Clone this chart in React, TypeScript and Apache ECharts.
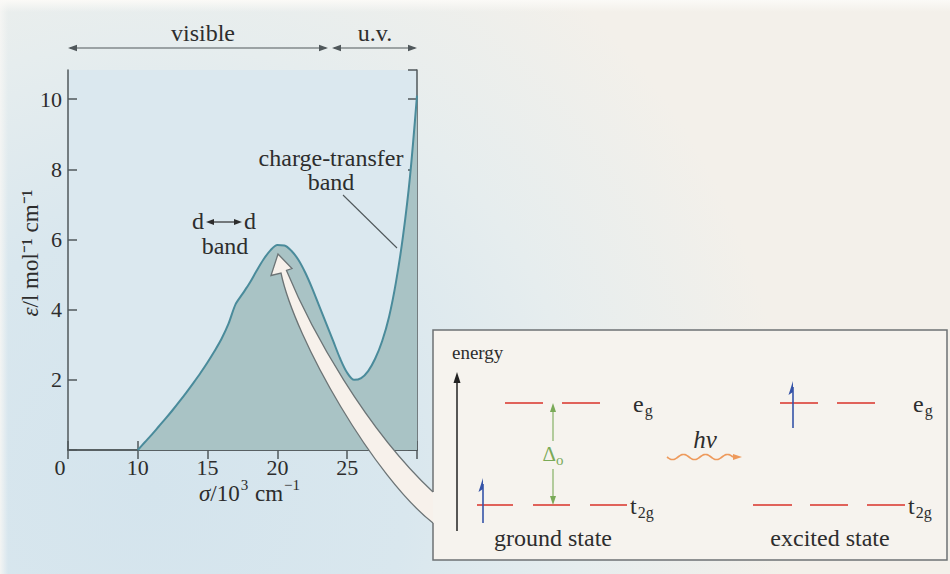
import React, { useEffect, useRef } from "react";
import * as echarts from "echarts";

// wavenumber sigma / 10^3 cm^-1
const sigma = [10, 10.5, 11, 11.5, 12, 12.5, 13, 13.5, 14, 14.5, 15, 15.5, 16, 16.5, 17, 17.5, 18, 18.5, 19, 19.5, 20, 20.5, 21, 21.5, 22, 22.5, 23, 23.5, 24, 24.5, 25, 25.5, 26, 26.5, 27, 27.5, 28, 28.5, 29, 29.5, 30];
// molar absorption coefficient epsilon / l mol^-1 cm^-1
const epsilon = [0, 0.22, 0.44, 0.67, 0.9, 1.14, 1.39, 1.65, 1.92, 2.2, 2.5, 2.82, 3.17, 3.6, 4.15, 4.45, 4.75, 5.1, 5.43, 5.69, 5.84, 5.83, 5.68, 5.42, 5.05, 4.6, 4.1, 3.6, 3.1, 2.6, 2.2, 2.0, 2.05, 2.25, 2.6, 3.1, 3.8, 4.8, 6.1, 7.8, 10.1];
const xTickLabels = ["10", "15", "20", "25"];
const yTickLabels = ["2", "4", "6", "8", "10"];

const SERIF = "'Liberation Serif', 'Times New Roman', serif";
const INK = "#2d2d2d";
const AX = "#50585b";
const RED = "#e0625a";
const BLUE = "#3553a8";
const GREEN = "#7aaa58";
const ORANGE = "#ee9a5c";
const FS = 24;

const dFill =
  "M278 254 L292 268.5 L286.5 270.5 C311 330 365 428 433 492 L433 523 C375 478 295 340 281 273 L271 275.5 Z";
const dStroke =
  "M433 492 C365 428 311 330 286.5 270.5 L292 268.5 L278 254 L271 275.5 L281 273 C295 340 375 478 433 523";

let registered = false;
function registerShapes() {
  if (registered) return;
  registered = true;
  echarts.graphic.registerShape("bigArrowFill", echarts.graphic.extendPath(dFill, {}));
  echarts.graphic.registerShape("bigArrowStroke", echarts.graphic.extendPath(dStroke, {}));
}

const txt = (text: string, x: number, y: number, size = FS, align = "center", extra: any = {}) => ({
  type: "text",
  x,
  y,
  z: 30,
  style: { text, fontFamily: SERIF, fontSize: size, fill: INK, align, verticalAlign: "middle", ...extra },
});

const seg = (x1: number, y1: number, x2: number, y2: number, stroke: string, w = 1.5) => ({
  type: "line",
  z: 30,
  shape: { x1, y1, x2, y2 },
  style: { stroke, lineWidth: w },
});

const poly = (points: number[][], fill: string) => ({
  type: "polygon",
  z: 30,
  shape: { points },
  style: { fill, stroke: "none" },
});

const hHead = (tipX: number, y: number, dir: number, color: string, len = 9, half = 3.2) =>
  poly([[tipX, y], [tipX - dir * len, y - half], [tipX - dir * len, y + half]], color);
const vHead = (x: number, tipY: number, dir: number, color: string, len = 9, half = 3.2) =>
  poly([[x, tipY], [x - half, tipY - dir * len], [x + half, tipY - dir * len]], color);

const richSub = {
  b: { fontFamily: SERIF, fontSize: 24, fill: INK, color: INK, verticalAlign: "top", padding: [0, 0, 0, 0] },
  s: { fontFamily: SERIF, fontSize: 16, fill: INK, color: INK, verticalAlign: "top", padding: [11, 0, 0, 1] },
};
const richSup = {
  n: { fontFamily: SERIF, fontSize: 23, fill: INK, color: INK, verticalAlign: "top", padding: [4, 0, 0, 0] },
  i: { fontFamily: SERIF, fontSize: 23, fontStyle: "italic", fill: INK, color: INK, verticalAlign: "top", padding: [4, 0, 0, 0] },
  p: { fontFamily: SERIF, fontSize: 15, fill: INK, color: INK, verticalAlign: "top", padding: [0, 1, 0, 1] },
};

const spin = (x: number, bottom: number, top: number) => [
  seg(x, bottom, x, top + 6, BLUE, 1.6),
  poly([[x, top], [x - 4.5, top + 14], [x, top + 11]], BLUE),
];

const wave = () => {
  const pts: number[][] = [];
  for (let x = 667; x <= 733; x += 1) {
    pts.push([x, 457 + 2.6 * Math.sin(((x - 667) / 66) * 3 * 2 * Math.PI)]);
  }
  return {
    type: "polyline",
    z: 30,
    shape: { points: pts },
    style: { stroke: ORANGE, lineWidth: 1.6, fill: "none" },
  };
};

function buildGraphic() {
  const els: any[] = [];
  // top spectral region arrows
  els.push(seg(70, 48, 326, 48, AX, 1.2), hHead(68, 48, -1, AX), hHead(328, 48, 1, AX));
  els.push(seg(334, 48, 415, 48, AX, 1.2), hHead(332, 48, -1, AX), hHead(417, 48, 1, AX));
  els.push(txt("visible", 203, 33), txt("u.v.", 375, 33));
  // origin label
  els.push(txt("0", 60, 467, 22));
  // axis names
  els.push({
    type: "text",
    x: 250,
    y: 491,
    z: 30,
    style: { text: "{i|σ}{n|/10}{p|3}{n| cm}{p|−1}", rich: richSup, align: "center", verticalAlign: "middle" },
  });
  els.push({
    type: "text",
    x: 30,
    y: 253,
    z: 30,
    rotation: Math.PI / 2,
    style: {
      text: "{i|ε}{n|/l mol⁻¹ cm⁻¹}",
      rich: {
        i: { fontFamily: SERIF, fontSize: 23, fontStyle: "italic", fill: INK, color: INK },
        n: { fontFamily: SERIF, fontSize: 23, fill: INK, color: INK },
      },
      align: "center",
      verticalAlign: "middle",
    },
  });
  // charge-transfer band label
  els.push(txt("charge-transfer", 331, 158), txt("band", 331, 182));
  els.push(seg(343, 195, 397, 248, AX, 1.1));
  // d <-> d band label
  els.push(txt("d", 198, 221), txt("d", 250, 221));
  els.push(seg(212, 222, 236, 222, INK, 1.2), hHead(206, 222, -1, INK, 8, 3), hHead(242, 222, 1, INK, 8, 3));
  els.push(txt("band", 225, 246));
  // energy diagram box
  els.push({ type: "rect", z: 15, shape: { x: 433, y: 330, width: 514, height: 230 }, style: { fill: "#f6f3ee", stroke: "none" } });
  // big curved arrow
  els.push({ type: "bigArrowFill", x: 0, y: 0, scaleX: 1, scaleY: 1, z: 20, style: { fill: "#f7f1eb", stroke: "none" } });
  els.push({ type: "bigArrowStroke", x: 0, y: 0, scaleX: 1, scaleY: 1, z: 21, style: { fill: "none", stroke: "#6c7476", lineWidth: 1.3 } });
  els.push({
    type: "polyline",
    z: 21,
    shape: { points: [[433, 492], [433, 330], [947, 330], [947, 560], [433, 560], [433, 523]] },
    style: { stroke: "#6d7274", lineWidth: 1.5, fill: "none" },
  });
  // energy axis
  els.push(txt("energy", 452, 352, 19, "left"));
  els.push(seg(457, 531, 457, 380, "#222", 1.5), vHead(457, 372, -1, "#222", 11, 3.5));
  // orbital levels
  const lv = (ranges: number[][], y: number) => ranges.forEach((r) => els.push(seg(r[0], y, r[1], y, RED, 1.8)));
  lv([[505, 543], [562, 600]], 403);
  lv([[477, 513], [533, 570], [590, 627]], 505);
  lv([[780, 818], [837, 875]], 403);
  lv([[753, 792], [810, 848], [867, 905]], 505);
  const orb = (t: string, x: number, y: number) => ({
    type: "text",
    x,
    y,
    z: 30,
    style: { text: t, rich: richSub, align: "left", verticalAlign: "middle" },
  });
  els.push(orb("{b|e}{s|g}", 633, 405), orb("{b|t}{s|2g}", 630, 507));
  els.push(orb("{b|e}{s|g}", 913, 405), orb("{b|t}{s|2g}", 908, 507));
  // electrons
  els.push(...spin(483, 523, 478), ...spin(793, 428, 381));
  // Delta_o arrow
  els.push(seg(553, 410, 553, 441, GREEN, 1.1), seg(553, 469, 553, 497, GREEN, 1.1));
  els.push(vHead(553, 403, -1, GREEN, 9, 3), vHead(553, 505, 1, GREEN, 9, 3));
  els.push({
    type: "text",
    x: 553,
    y: 455,
    z: 30,
    style: {
      text: "{d|Δ}{o|o}",
      rich: {
        d: { fontFamily: SERIF, fontSize: 21, fill: GREEN, color: GREEN, verticalAlign: "top" },
        o: { fontFamily: SERIF, fontSize: 15, fill: GREEN, color: GREEN, verticalAlign: "top", padding: [9, 0, 0, 0] },
      },
      align: "center",
      verticalAlign: "middle",
    },
  });
  // photon
  els.push(txt("hν", 705, 439, 25, "center", { fontStyle: "italic" }));
  els.push(wave(), hHead(742, 457, 1, ORANGE, 9, 3));
  // state labels
  els.push(txt("ground state", 553, 538), txt("excited state", 830, 538));
  return els;
}

export default function App() {
  const ref = useRef<HTMLDivElement>(null);
  useEffect(() => {
    if (!ref.current) return;
    registerShapes();
    const chart = echarts.init(ref.current, undefined, { renderer: "svg" });
    const axisCommon = {
      axisLine: { show: true, lineStyle: { color: AX, width: 1.5 } },
      axisTick: { show: true, inside: true, length: 9, lineStyle: { color: AX, width: 1.5 } },
      splitLine: { show: false },
    };
    chart.setOption({
      animation: false,
      backgroundColor: "transparent",
      grid: { left: 68, right: 533, top: 70, bottom: 124, show: true, backgroundColor: "#dbe8ef", borderWidth: 0 },
      xAxis: [
        {
          type: "value",
          position: "bottom",
          min: 5,
          max: 30,
          interval: 5,
          ...axisCommon,
          axisLabel: {
            margin: 6,
            fontFamily: SERIF,
            fontSize: 22,
            color: INK,
            formatter: (v: number) => (xTickLabels.includes(String(v)) ? String(v) : ""),
          },
        },
        { type: "value", position: "top", min: 5, max: 30, interval: 5, ...axisCommon, axisLabel: { show: false } },
      ],
      yAxis: [
        {
          type: "value",
          position: "left",
          min: 0,
          max: 10.83,
          interval: 2,
          ...axisCommon,
          axisLabel: {
            margin: 6,
            fontFamily: SERIF,
            fontSize: 22,
            color: INK,
            showMaxLabel: false,
            formatter: (v: number) => (yTickLabels.includes(String(v)) ? String(v) : ""),
          },
        },
        { type: "value", position: "right", min: 0, max: 10.83, interval: 2, ...axisCommon, axisLabel: { show: false } },
      ],
      series: [
        {
          type: "line",
          data: sigma.map((s, i) => [s, epsilon[i]]),
          smooth: 0.3,
          showSymbol: false,
          symbol: "none",
          lineStyle: { color: "#4a8b9b", width: 2 },
          areaStyle: { color: "#a9c3c5", opacity: 1 },
          z: 2,
        },
      ],
      graphic: { elements: buildGraphic() },
    });
    return () => chart.dispose();
  }, []);
  return (
    <div
      style={{
        position: "absolute",
        left: 0,
        top: 0,
        width: 950,
        height: 574,
        background:
          "linear-gradient(180deg, rgba(251,250,247,1) 0px, rgba(251,250,247,0) 12px), linear-gradient(90deg, rgba(246,246,244,0.9) 0px, rgba(246,246,244,0) 8px), radial-gradient(ellipse 640px 660px at 150px 490px, #d4e4ed 0%, #d9e7ee 40%, #e6edee 68%, #f3f0ea 100%)",
      }}
    >
      <div ref={ref} style={{ width: 950, height: 574 }} />
    </div>
  );
}
